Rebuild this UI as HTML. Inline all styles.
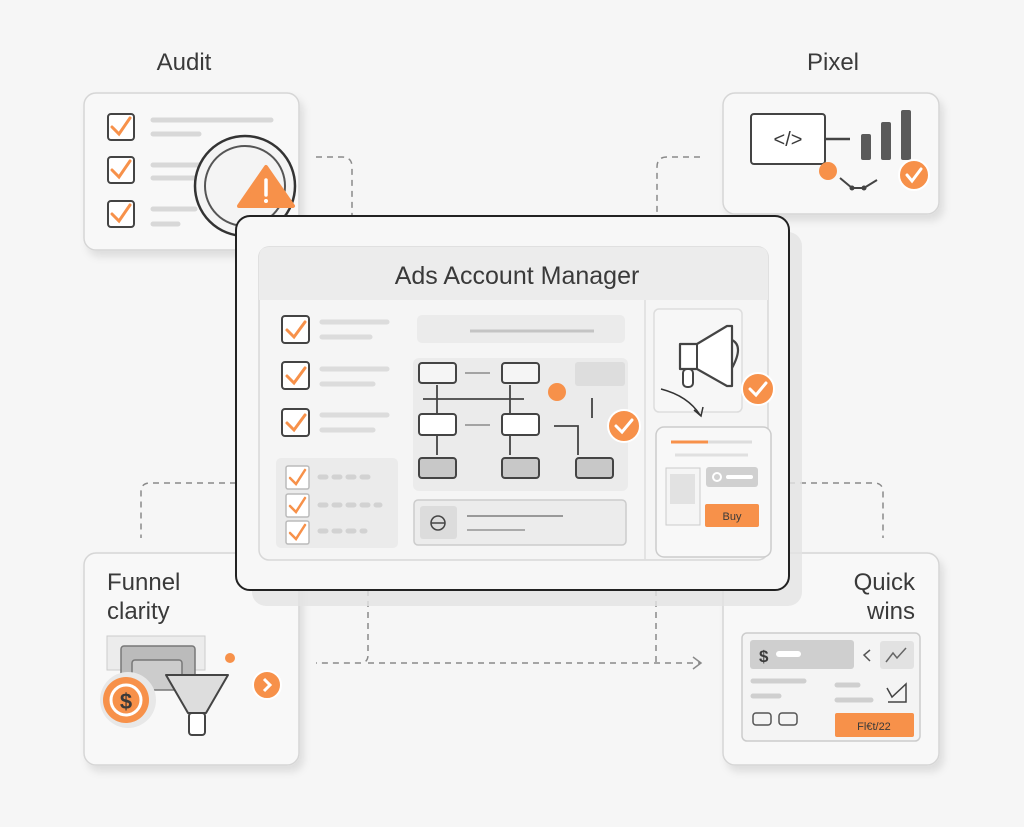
<!DOCTYPE html>
<html><head><meta charset="utf-8"><style>
html,body{margin:0;padding:0;background:#f6f6f6;}
svg{display:block;}
text{font-family:"Liberation Sans",sans-serif;fill:#3a3a3a;}
</style></head><body>
<svg width="1024" height="827" viewBox="0 0 1024 827" xmlns="http://www.w3.org/2000/svg">
<defs>
<filter id="sh" x="-10%" y="-10%" width="130%" height="130%"><feDropShadow dx="4" dy="6" stdDeviation="4" flood-color="#000" flood-opacity="0.10"/></filter>
</defs>
<rect width="1024" height="827" fill="#f6f6f6"/>
<!-- connectors -->
<g fill="none" stroke="#8a8a8a" stroke-width="1.5" stroke-dasharray="6,5">
<path d="M316 157 H342 Q352 157 352 167 V215"/>
<path d="M700 157 H667 Q657 157 657 167 V215"/>
<path d="M236 483 H150 Q141 483 141 492 V538"/>
<path d="M789 483 H874 Q883 483 883 492 V538"/>
<path d="M368 590 V655 Q368 663 360 663 H316"/>
<path d="M368 663 H700"/>
<path d="M656 590 V663"/>
</g>
<path d="M693 657 L701 663 L693 669" fill="none" stroke="#8a8a8a" stroke-width="1.5"/>

<!-- labels -->
<text x="184" y="70" font-size="24" text-anchor="middle">Audit</text>
<text x="833" y="70" font-size="24" text-anchor="middle">Pixel</text>

<!-- Audit card -->
<rect x="84" y="93" width="215" height="157" rx="12" fill="#f8f8f8" stroke="#d6d6d6" stroke-width="1.5" filter="url(#sh)"/>
<g stroke="#444" stroke-width="2" fill="#fff">
<rect x="108" y="114" width="26" height="26" rx="3"/>
<rect x="108" y="157" width="26" height="26" rx="3"/>
<rect x="108" y="201" width="26" height="26" rx="3"/>
</g>
<g stroke="#f7914a" stroke-width="3" fill="none" stroke-linecap="round">
<path d="M112 127 L119 134 L130 118"/><path d="M112 170 L119 177 L130 161"/><path d="M112 214 L119 221 L130 205"/>
</g>
<g stroke="#d8d8d8" stroke-width="5" stroke-linecap="round">
<line x1="124" y1="120" x2="195" y2="120" stroke="none"/>
<line x1="153" y1="120" x2="271" y2="120"/><line x1="153" y1="134" x2="199" y2="134"/>
<line x1="153" y1="165" x2="200" y2="165"/><line x1="153" y1="178" x2="200" y2="178"/>
<line x1="153" y1="209" x2="195" y2="209"/><line x1="153" y1="224" x2="178" y2="224"/>
</g>
<circle cx="245" cy="186" r="50" fill="#f4f4f4" stroke="#333" stroke-width="2.5"/>
<circle cx="245" cy="186" r="40" fill="none" stroke="#555" stroke-width="2"/>
<path d="M266 167 L293 206 L239 206 Z" fill="#f7914a" stroke="#f7914a" stroke-width="4" stroke-linejoin="round"/>
<line x1="266" y1="180" x2="266" y2="195" stroke="#fff" stroke-width="3.5" stroke-linecap="round"/>
<circle cx="266" cy="201" r="2" fill="#fff"/>

<!-- Pixel card -->
<rect x="723" y="93" width="216" height="121" rx="12" fill="#f8f8f8" stroke="#d6d6d6" stroke-width="1.5" filter="url(#sh)"/>
<rect x="751" y="114" width="74" height="50" rx="3" fill="#fff" stroke="#444" stroke-width="2"/>
<text x="788" y="146" font-size="20" text-anchor="middle" fill="#444">&lt;/&gt;</text>
<line x1="825" y1="139" x2="850" y2="139" stroke="#444" stroke-width="2.5"/>
<rect x="861" y="134" width="10" height="26" rx="2" fill="#5a5a5a"/>
<rect x="881" y="122" width="10" height="38" rx="2" fill="#5a5a5a"/>
<rect x="901" y="110" width="10" height="50" rx="2" fill="#5a5a5a"/>
<circle cx="828" cy="171" r="9" fill="#f7914a"/>
<path d="M840 178 L852 188 L864 188 L877 180" fill="none" stroke="#444" stroke-width="2"/>
<circle cx="852" cy="188" r="2.5" fill="#444"/><circle cx="864" cy="188" r="2.5" fill="#444"/>
<circle cx="914" cy="175" r="15" fill="#f7914a" stroke="#fff" stroke-width="2"/>
<path d="M907 175 L912 181 L921 169" fill="none" stroke="#fff" stroke-width="3" stroke-linecap="round"/>

<!-- Funnel card -->
<rect x="84" y="553" width="215" height="212" rx="12" fill="#f8f8f8" stroke="#d6d6d6" stroke-width="1.5" filter="url(#sh)"/>
<text x="107" y="590" font-size="24">Funnel</text>
<text x="107" y="619" font-size="24">clarity</text>
<rect x="107" y="636" width="98" height="34" fill="#ececec" stroke="#ccc"/>
<rect x="121" y="646" width="74" height="40" rx="3" fill="#bbb" stroke="#777" stroke-width="1.5"/>
<rect x="132" y="660" width="50" height="30" rx="3" fill="#ccc" stroke="#777" stroke-width="1.5"/>
<circle cx="230" cy="658" r="5" fill="#f7914a"/>
<circle cx="128" cy="700" r="28" fill="#e8e8e8"/>
<circle cx="126" cy="700" r="23" fill="#f7914a"/>
<circle cx="126" cy="700" r="15" fill="none" stroke="#fff" stroke-width="3"/>
<text x="126" y="709" font-size="22" text-anchor="middle" font-weight="bold" fill="#fff">$</text>
<path d="M166 675 H228 L206 713 H188 Z" fill="#ddd" stroke="#444" stroke-width="2" stroke-linejoin="round"/>
<rect x="189" y="713" width="16" height="22" rx="3" fill="#fff" stroke="#444" stroke-width="2"/>
<circle cx="267" cy="685" r="14" fill="#f7914a" stroke="#fff" stroke-width="2"/>
<path d="M264 679 L270 685 L264 691" fill="none" stroke="#fff" stroke-width="3"/>

<!-- Quick wins card -->
<rect x="723" y="553" width="216" height="212" rx="12" fill="#f8f8f8" stroke="#d6d6d6" stroke-width="1.5" filter="url(#sh)"/>
<text x="915" y="590" font-size="24" text-anchor="end">Quick</text>
<text x="915" y="619" font-size="24" text-anchor="end">wins</text>
<rect x="742" y="633" width="178" height="108" rx="5" fill="#f4f4f4" stroke="#ccc" stroke-width="1.5"/>
<rect x="750" y="640" width="104" height="29" rx="3" fill="#cfcfcf"/>
<text x="759" y="662" font-size="17" font-weight="bold" fill="#fff">$</text>
<line x1="779" y1="654" x2="798" y2="654" stroke="#fff" stroke-width="6" stroke-linecap="round"/>
<path d="M870 650 L864 655 L870 661" fill="none" stroke="#555" stroke-width="1.5"/>
<rect x="880" y="641" width="34" height="28" rx="3" fill="#e2e2e2"/>
<path d="M886 662 L893 653 L897 658 L906 648" fill="none" stroke="#666" stroke-width="1.5"/>
<g stroke="#cfcfcf" stroke-width="5" stroke-linecap="round">
<line x1="753" y1="681" x2="804" y2="681"/><line x1="753" y1="696" x2="779" y2="696"/>
<line x1="837" y1="685" x2="858" y2="685"/><line x1="837" y1="700" x2="871" y2="700"/>
</g>
<path d="M887 688 L892 697 L906 684 V702 H888" fill="none" stroke="#444" stroke-width="1.5"/>
<rect x="753" y="713" width="18" height="12" rx="3" fill="none" stroke="#555" stroke-width="1.5"/>
<rect x="779" y="713" width="18" height="12" rx="3" fill="none" stroke="#555" stroke-width="1.5"/>
<rect x="835" y="713" width="79" height="24" rx="2" fill="#f7914a"/>
<text x="874" y="730" font-size="11" text-anchor="middle" fill="#fff">Fl€t/22</text>

<!-- Main card -->
<rect x="252" y="232" width="550" height="374" rx="14" fill="#e4e4e4" opacity="0.8"/>
<rect x="236" y="216" width="553" height="374" rx="14" fill="#f7f7f7" stroke="#222" stroke-width="2"/>
<rect x="259" y="247" width="509" height="313" rx="10" fill="#f5f5f5" stroke="#d8d8d8" stroke-width="1.5"/>
<path d="M259 300 V257 Q259 247 269 247 H758 Q768 247 768 257 V300 Z" fill="#ececec"/>
<text x="517" y="284" font-size="25" text-anchor="middle" fill="#333">Ads Account Manager</text>
<line x1="645" y1="300" x2="645" y2="560" stroke="#ddd" stroke-width="1.5"/>
<!-- left checkboxes -->
<g stroke="#444" stroke-width="2" fill="#fff">
<rect x="282" y="316" width="27" height="27" rx="3"/>
<rect x="282" y="362" width="27" height="27" rx="3"/>
<rect x="282" y="409" width="27" height="27" rx="3"/>
</g>
<g stroke="#f7914a" stroke-width="3" fill="none" stroke-linecap="round">
<path d="M287 330 L294 337 L305 322"/><path d="M287 376 L294 383 L305 368"/><path d="M287 423 L294 430 L305 415"/>
</g>
<g stroke="#dcdcdc" stroke-width="5" stroke-linecap="round">
<line x1="322" y1="322" x2="387" y2="322"/><line x1="322" y1="337" x2="370" y2="337"/>
<line x1="322" y1="369" x2="387" y2="369"/><line x1="322" y1="384" x2="373" y2="384"/>
<line x1="322" y1="415" x2="387" y2="415"/><line x1="322" y1="430" x2="373" y2="430"/>
</g>
<rect x="276" y="458" width="122" height="90" rx="5" fill="#ebebeb"/>
<g stroke="#bbb" stroke-width="1.5" fill="#fff">
<rect x="286" y="466" width="23" height="23" rx="2"/><rect x="286" y="494" width="23" height="23" rx="2"/><rect x="286" y="521" width="23" height="23" rx="2"/>
</g>
<g stroke="#f7914a" stroke-width="2.5" fill="none" stroke-linecap="round">
<path d="M290 478 L296 484 L305 470"/><path d="M290 506 L296 512 L305 498"/><path d="M290 533 L296 539 L305 525"/>
</g>
<g stroke="#d2d2d2" stroke-width="5" stroke-linecap="round" stroke-dasharray="6,8">
<line x1="320" y1="477" x2="372" y2="477"/><line x1="320" y1="505" x2="380" y2="505"/><line x1="320" y1="531" x2="365" y2="531"/>
</g>
<!-- middle -->
<rect x="417" y="315" width="208" height="28" rx="5" fill="#ebebeb"/>
<line x1="470" y1="331" x2="594" y2="331" stroke="#c4c4c4" stroke-width="3"/>
<rect x="413" y="358" width="215" height="133" rx="6" fill="#ebebeb"/>
<rect x="575" y="362" width="50" height="24" rx="3" fill="#ddd"/>
<g stroke="#444" stroke-width="1.8" fill="none">
<line x1="437" y1="385" x2="437" y2="413"/><line x1="510" y1="385" x2="510" y2="413"/>
<line x1="423" y1="399" x2="524" y2="399"/>
<line x1="465" y1="373" x2="490" y2="373" stroke="#999"/>
<line x1="465" y1="425" x2="490" y2="425" stroke="#999"/>
<line x1="437" y1="436" x2="437" y2="455"/><line x1="510" y1="436" x2="510" y2="455"/>
<path d="M554 426 H578 V455"/>
<line x1="592" y1="398" x2="592" y2="418"/>
</g>
<g stroke="#444" stroke-width="2">
<rect x="419" y="363" width="37" height="20" rx="3" fill="#f5f5f5"/>
<rect x="502" y="363" width="37" height="20" rx="3" fill="#f5f5f5"/>
<rect x="419" y="414" width="37" height="21" rx="3" fill="#fff"/>
<rect x="502" y="414" width="37" height="21" rx="3" fill="#fff"/>
<rect x="419" y="458" width="37" height="20" rx="3" fill="#c8c8c8"/>
<rect x="502" y="458" width="37" height="20" rx="3" fill="#c8c8c8"/>
<rect x="576" y="458" width="37" height="20" rx="3" fill="#c8c8c8"/>
</g>
<circle cx="557" cy="392" r="9" fill="#f7914a"/>
<circle cx="624" cy="426" r="16" fill="#f7914a" stroke="#fff" stroke-width="2"/>
<path d="M616 426 L622 432 L632 420" fill="none" stroke="#fff" stroke-width="3" stroke-linecap="round"/>
<rect x="414" y="500" width="212" height="45" rx="4" fill="#ececec" stroke="#ccc" stroke-width="1.5"/>
<rect x="420" y="506" width="37" height="33" rx="3" fill="#dcdcdc"/>
<circle cx="438" cy="523" r="7" fill="none" stroke="#444" stroke-width="1.5"/><line x1="431" y1="523" x2="445" y2="523" stroke="#444" stroke-width="1.5"/>
<line x1="467" y1="516" x2="563" y2="516" stroke="#999" stroke-width="2"/>
<line x1="467" y1="530" x2="525" y2="530" stroke="#aaa" stroke-width="2"/>
<!-- right column -->
<rect x="654" y="309" width="88" height="103" rx="5" fill="#f7f7f7" stroke="#ddd" stroke-width="1.5"/>
<path d="M680 344 H697 L727 326 H732 V386 H727 L697 369 H680 Z" fill="#fff" stroke="#444" stroke-width="2.2" stroke-linejoin="round"/>
<path d="M732 340 Q744 346 732 368" fill="none" stroke="#444" stroke-width="2.2"/>
<line x1="697" y1="344" x2="697" y2="369" stroke="#444" stroke-width="2"/>
<rect x="683" y="369" width="10" height="18" rx="4" fill="#fff" stroke="#444" stroke-width="2"/>
<circle cx="758" cy="389" r="16" fill="#f7914a" stroke="#fff" stroke-width="2"/>
<path d="M750 389 L756 395 L766 383" fill="none" stroke="#fff" stroke-width="3" stroke-linecap="round"/>
<path d="M661 389 Q688 396 700 415" fill="none" stroke="#333" stroke-width="1.5"/>
<path d="M694 410 L701 416 L703 407" fill="none" stroke="#333" stroke-width="1.5"/>
<rect x="656" y="427" width="115" height="130" rx="8" fill="#f8f8f8" stroke="#ccc" stroke-width="1.5"/>
<line x1="671" y1="442" x2="708" y2="442" stroke="#f7914a" stroke-width="3"/>
<line x1="708" y1="442" x2="752" y2="442" stroke="#ddd" stroke-width="3"/>
<line x1="675" y1="455" x2="748" y2="455" stroke="#e0e0e0" stroke-width="3"/>
<rect x="666" y="468" width="34" height="57" fill="#f5f5f5" stroke="#ccc"/>
<rect x="670" y="474" width="25" height="30" fill="#e2e2e2"/>
<rect x="706" y="467" width="52" height="20" rx="3" fill="#d0d0d0"/>
<circle cx="717" cy="477" r="4" fill="none" stroke="#fff" stroke-width="2"/>
<line x1="728" y1="477" x2="751" y2="477" stroke="#fff" stroke-width="4" stroke-linecap="round"/>
<rect x="705" y="504" width="54" height="23" rx="2" fill="#f7914a"/>
<text x="732" y="520" font-size="11" text-anchor="middle" fill="#fff">Buy</text>
</svg>
</body></html>
